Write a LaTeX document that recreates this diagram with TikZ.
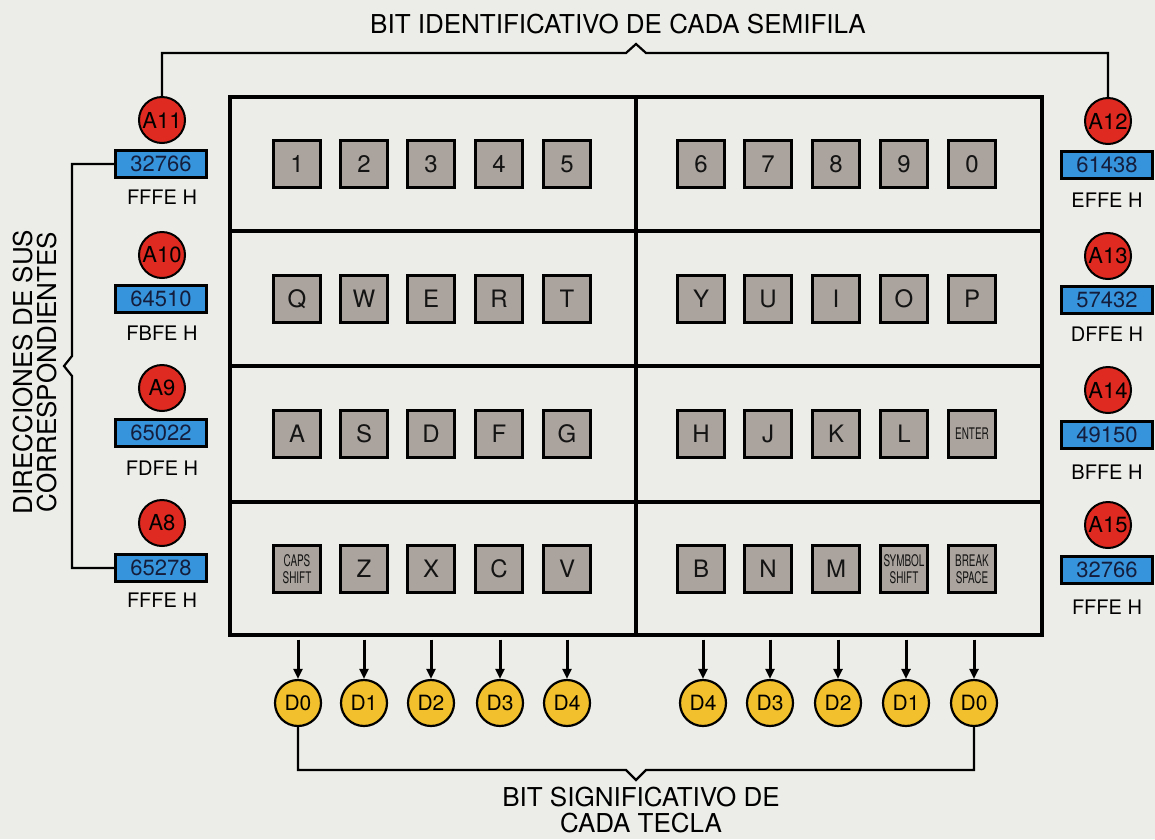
\documentclass[tikz,border=0pt]{standalone}
\usepackage{fontspec}
\usepackage{graphicx}
\setmainfont{TeX Gyre Heros}
\usetikzlibrary{arrows.meta}
\definecolor{paper}{RGB}{236,236,233}
\definecolor{keygray}{RGB}{171,164,158}
\definecolor{bitred}{RGB}{222,42,32}
\definecolor{bityellow}{RGB}{242,192,44}
\definecolor{addrblue}{RGB}{54,148,220}
\definecolor{addrtext}{RGB}{20,30,60}
\newcommand{\condensed}[1]{\scalebox{0.62}[1]{#1}}
\tikzset{
  frame/.style={line width=3.4pt},
  keybox/.style={draw, line width=2.8pt, fill=keygray, minimum size=47pt, inner sep=0pt, text=black!92, font=\fontsize{24}{24}\selectfont},
  smallkey/.style={keybox, align=center, font=\fontsize{16}{17}\selectfont},
  abit/.style={circle, draw, line width=2pt, fill=bitred, minimum size=46pt, inner sep=0pt, font=\fontsize{22}{22}\selectfont},
  dbit/.style={circle, draw, line width=2.2pt, fill=bityellow, minimum size=46pt, inner sep=0pt, font=\fontsize{21}{21}\selectfont},
  addr/.style={draw, line width=2.4pt, fill=addrblue, minimum width=91pt, minimum height=27pt, inner sep=0pt, text=addrtext, font=\fontsize{22}{22}\selectfont},
  hexlbl/.style={font=\fontsize{20}{20}\selectfont},
  bracket/.style={line width=2.2pt},
  bitarrow/.style={line width=3pt, shorten <=3pt, -{Triangle[length=10pt,width=9pt]}},
  caption/.style={align=center, font=\fontsize{26}{26}\selectfont},
}
\begin{document}
\begin{tikzpicture}[x=1pt, y=-1pt]
  \fill[paper] (0,0) rectangle (1155,839);
  \useasboundingbox (0,0) rectangle (1155,839);

  % keyboard frame
  \node[frame, draw, minimum width=812pt, minimum height=538pt, inner sep=0pt] (board) at (636,366) {};
  \draw[frame] (board.north) -- (board.south);
  \draw[frame] (board.west |- 0,231) -- (board.east |- 0,231);
  \draw[frame] (board.west) -- (board.east);
  \draw[frame] (board.west |- 0,502) -- (board.east |- 0,502);

  % row 1
  \node[keybox] (k1) at (297,164) {1};
  \node[keybox] (k2) at (364,164) {2};
  \node[keybox] (k3) at (431,164) {3};
  \node[keybox] (k4) at (499,164) {4};
  \node[keybox] (k5) at (567,164) {5};
  \node[keybox] (k6) at (701,164) {6};
  \node[keybox] (k7) at (768,164) {7};
  \node[keybox] (k8) at (836,164) {8};
  \node[keybox] (k9) at (904,164) {9};
  \node[keybox] (k0) at (972,164) {0};

  % row 2
  \node[keybox] (kq) at (297,299) {Q};
  \node[keybox] (kw) at (364,299) {W};
  \node[keybox] (ke) at (431,299) {E};
  \node[keybox] (kr) at (499,299) {R};
  \node[keybox] (kt) at (567,299) {T};
  \node[keybox] (ky) at (701,299) {Y};
  \node[keybox] (ku) at (768,299) {U};
  \node[keybox] (ki) at (836,299) {I};
  \node[keybox] (ko) at (904,299) {O};
  \node[keybox] (kp) at (972,299) {P};

  % row 3
  \node[keybox] (ka) at (297,434) {A};
  \node[keybox] (ks) at (364,434) {S};
  \node[keybox] (kd) at (431,434) {D};
  \node[keybox] (kf) at (499,434) {F};
  \node[keybox] (kg) at (567,434) {G};
  \node[keybox] (kh) at (701,434) {H};
  \node[keybox] (kj) at (768,434) {J};
  \node[keybox] (kk) at (836,434) {K};
  \node[keybox] (kl) at (904,434) {L};
  \node[smallkey] (kenter) at (972,434) {\condensed{ENTER}};

  % row 4
  \node[smallkey] (kcaps) at (297,569) {\condensed{CAPS}\\\condensed{SHIFT}};
  \node[keybox] (kz) at (364,569) {Z};
  \node[keybox] (kx) at (431,569) {X};
  \node[keybox] (kc) at (499,569) {C};
  \node[keybox] (kv) at (567,569) {V};
  \node[keybox] (kb) at (701,569) {B};
  \node[keybox] (kn) at (768,569) {N};
  \node[keybox] (km) at (836,569) {M};
  \node[smallkey] (ksym) at (904,569) {\condensed{SYMBOL}\\\condensed{SHIFT}};
  \node[smallkey] (kbreak) at (972,569) {\condensed{BREAK}\\\condensed{SPACE}};

  % left half-rows
  \node[abit] (a11) at (162,120) {A11};
  \node[addr] (ad11) at (161,164) {32766};
  \node[hexlbl] (h11) at (162,197) {FFFE H};
  \node[abit] (a10) at (162,255) {A10};
  \node[addr] (ad10) at (161,299) {64510};
  \node[hexlbl] (h10) at (162,333) {FBFE H};
  \node[abit] (a9) at (162,388) {A9};
  \node[addr] (ad9) at (161,433) {65022};
  \node[hexlbl] (h9) at (162,468) {FDFE H};
  \node[abit] (a8) at (162,523) {A8};
  \node[addr] (ad8) at (161,568) {65278};
  \node[hexlbl] (h8) at (162,600) {FFFE H};

  % right half-rows
  \node[abit] (a12) at (1108,121) {A12};
  \node[addr] (ad12) at (1107,165) {61438};
  \node[hexlbl] (h12) at (1107,200) {EFFE H};
  \node[abit] (a13) at (1108,256) {A13};
  \node[addr] (ad13) at (1107,300) {57432};
  \node[hexlbl] (h13) at (1107,334) {DFFE H};
  \node[abit] (a14) at (1108,390) {A14};
  \node[addr] (ad14) at (1107,435) {49150};
  \node[hexlbl] (h14) at (1107,472) {BFFE H};
  \node[abit] (a15) at (1108,525) {A15};
  \node[addr] (ad15) at (1107,570) {32766};
  \node[hexlbl] (h15) at (1107,607) {FFFE H};

  % data bits
  \node[dbit] (dl0) at (298,703) {D0};
  \node[dbit] (dl1) at (364,703) {D1};
  \node[dbit] (dl2) at (431,703) {D2};
  \node[dbit] (dl3) at (500,703) {D3};
  \node[dbit] (dl4) at (567,703) {D4};
  \node[dbit] (dr4) at (703,703) {D4};
  \node[dbit] (dr3) at (770,703) {D3};
  \node[dbit] (dr2) at (838,703) {D2};
  \node[dbit] (dr1) at (906,703) {D1};
  \node[dbit] (dr0) at (974,703) {D0};

  \draw[bitarrow] (dl0 |- board.south) -- (dl0);
  \draw[bitarrow] (dl1 |- board.south) -- (dl1);
  \draw[bitarrow] (dl2 |- board.south) -- (dl2);
  \draw[bitarrow] (dl3 |- board.south) -- (dl3);
  \draw[bitarrow] (dl4 |- board.south) -- (dl4);
  \draw[bitarrow] (dr4 |- board.south) -- (dr4);
  \draw[bitarrow] (dr3 |- board.south) -- (dr3);
  \draw[bitarrow] (dr2 |- board.south) -- (dr2);
  \draw[bitarrow] (dr1 |- board.south) -- (dr1);
  \draw[bitarrow] (dr0 |- board.south) -- (dr0);

  % brackets
  \draw[bracket] (a11.north) -- (a11 |- 0,53) -- (626,53) -- (636,44) -- (646,53) -- (a12 |- 0,53) -- (a12.north);
  \draw[bracket] (ad11.west) -- (ad11.west -| 72,0) -- (72,356) -- (64,366) -- (72,376) -- (ad8.west -| 72,0) -- (ad8.west);
  \draw[bracket] (dl0.south) -- (dl0 |- 0,770) -- (626,770) -- (636,780) -- (646,770) -- (dr0 |- 0,770) -- (dr0.south);

  % captions
  \node[caption] (top) at (618,24) {BIT IDENTIFICATIVO DE CADA SEMIFILA};
  \node[caption] (bottom) at (641,810) {BIT SIGNIFICATIVO DE\\CADA TECLA};
  \node[caption, rotate=90, font=\fontsize{26}{24}\selectfont] (side) at (35,372) {DIRECCIONES DE SUS\\CORRESPONDIENTES};
\end{tikzpicture}
\end{document}
